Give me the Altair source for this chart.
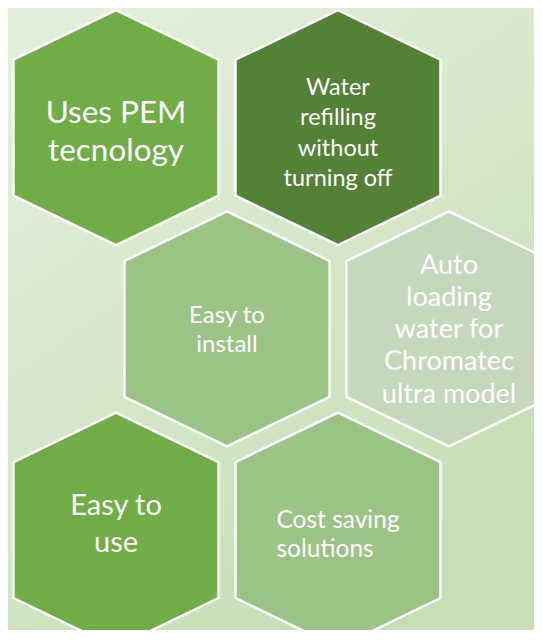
import altair as alt
import pandas as pd

# ---- data -------------------------------------------------------------
labels = [
    "Uses PEM\ntecnology",
    "Water\nrefilling\nwithout\nturning off",
    "Easy to\ninstall",
    "Auto\nloading\nwater for\nChromatec\nultra model",
    "Easy to\nuse",
    "Cost saving\nsolutions",
]
grid_row = [0, 0, 1, 1, 2, 2]
grid_col = [0, 1, 0, 1, 0, 1]

# ---- styles -----------------------------------------------------------
fills = ["#70ad47", "#538135", "#9bc386", "#c4d8bb", "#70ad47", "#9bc386"]
font_sizes = [31.5, 23.5, 24, 27, 29, 24.5]
line_heights = [38, 30.5, 29, 32.3, 37, 29.4]
text_dy = [-13.3, -39.7, -13.3, -63.3, -23.9, -9.1]
text_dx = [0, 0, 0, 0, 0, -61.5]
text_align = ["center", "center", "center", "center", "center", "left"]

W, H = 526, 622
X_DOMAIN = [-0.4865, 1.8829]
Y_DOMAIN = [-0.5949, 2.4966]

df = pd.DataFrame({"label": labels, "row": grid_row, "col": grid_col})
df["cx"] = df["col"] + 0.5 * (df["row"] % 2)
df["cy"] = df["row"]
df["idx"] = range(len(df))

xs = alt.Scale(domain=X_DOMAIN, range=[0, W], nice=False, zero=False)
ys = alt.Scale(domain=Y_DOMAIN, range=[0, H], nice=False, zero=False)
X = alt.X("cx:Q", scale=xs, axis=None)
Y = alt.Y("cy:Q", scale=ys, axis=None)

hex_path = "M0,-1.146L1,-0.663L1,0.663L0,1.146L-1,0.663L-1,-0.663Z"

bg = alt.Chart(pd.DataFrame({"a": [0]})).mark_rect(
    color=alt.LinearGradient(
        gradient="linear",
        stops=[
            alt.GradientStop(color="#e5f0dd", offset=0),
            alt.GradientStop(color="#d9eace", offset=0.4),
            alt.GradientStop(color="#c5dfb4", offset=1),
        ],
        x1=0, y1=0, x2=0.6, y2=1,
    )
).encode(x=alt.value(0), x2=alt.value(W), y=alt.value(0), y2=alt.value(H))

hexes = alt.Chart(df).mark_point(
    shape=hex_path, size=205 * 205, filled=True, opacity=1,
    stroke="white", strokeWidth=2.5, clip=True,
).encode(
    x=X, y=Y,
    fill=alt.Fill("idx:N", scale=alt.Scale(domain=list(range(len(df))), range=fills), legend=None),
)

texts = []
for i in range(len(df)):
    t = alt.Chart(df[df["idx"] == i]).mark_text(
        font="Lato", fontSize=font_sizes[i], lineHeight=line_heights[i],
        lineBreak="\n", color="white", baseline="middle",
        align=text_align[i], dx=text_dx[i], dy=text_dy[i], clip=True,
    ).encode(x=X, y=Y, text="label:N")
    texts.append(t)

chart = alt.layer(bg, hexes, *texts).properties(
    width=W, height=H, padding=0, autosize="none", background="#d8e9cc"
).configure_view(stroke=None)

chart.save("out.html", embed_options={"renderer": "svg", "actions": False})
